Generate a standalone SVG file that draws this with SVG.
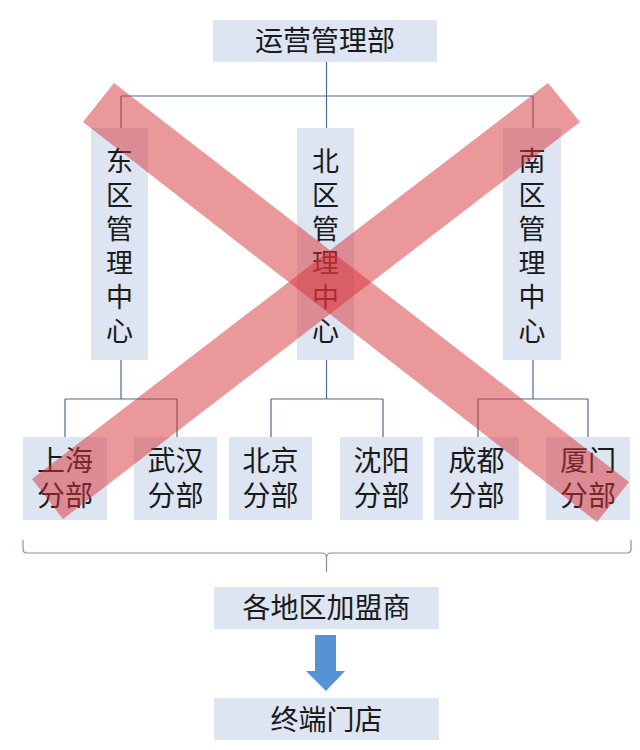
<svg xmlns="http://www.w3.org/2000/svg" width="640" height="750" viewBox="0 0 640 750">
<style>
.box{fill:#dce5f1}
.t{font-family:"Noto Sans CJK SC","Noto Sans",sans-serif;font-size:28px;fill:#1a1a1a;text-anchor:middle}
.v{font-size:27px;writing-mode:vertical-rl;text-anchor:start;letter-spacing:7px}
.ln{fill:none;stroke:#4d6b8f;stroke-width:1.2}
.br{fill:none;stroke:#7f93aa;stroke-width:1.2}
.band{fill:#d73237;opacity:0.5}
</style>
<rect width="640" height="750" fill="#ffffff"/>
<g id="connectors">
<path class="ln" d="M326.5,62 V128 M121,96 H533 M121,96 V128 M533,96 V128"/>
<path class="ln" d="M121,360 V399 M65,399 H177 M65,399 V437 M177,399 V437"/>
<path class="ln" d="M326.5,360 V399 M271,399 H383 M271,399 V437 M383,399 V437"/>
<path class="ln" d="M533,360 V399 M478,399 H588 M478,399 V437 M588,399 V437"/>
<path class="br" d="M23,540 V549 Q23,553 27,553 H322 Q326.5,553 326.5,558 V572 M326.5,558 Q326.5,553 331,553 H627 Q631,553 631,549 V540"/>
<path d="M315,635 H336 V671 H345 L326,691 L306,671 H315 Z" fill="#5593d4"/>
</g>
<g id="node-top"><rect class="box" x="213" y="20" width="224" height="42"/><text class="t" x="325" y="50.5">运营管理部</text></g>
<g id="node-east"><rect class="box" x="91" y="128" width="57" height="232"/><text class="t v" x="119.5" y="147.5">东区管理中心</text></g>
<g id="node-north"><rect class="box" x="297" y="128" width="57" height="232"/><text class="t v" x="325.5" y="147.5">北区管理中心</text></g>
<g id="node-south"><rect class="box" x="503" y="128" width="58" height="232"/><text class="t v" x="532" y="147.5">南区管理中心</text></g>
<g id="node-shanghai"><rect class="box" x="23" y="437" width="84" height="83"/><text class="t"><tspan x="65" y="470.5">上海</tspan><tspan x="65" y="505.5">分部</tspan></text></g>
<g id="node-wuhan"><rect class="box" x="134" y="437" width="83" height="83"/><text class="t"><tspan x="175.5" y="470.5">武汉</tspan><tspan x="175.5" y="505.5">分部</tspan></text></g>
<g id="node-beijing"><rect class="box" x="229" y="437" width="83" height="83"/><text class="t"><tspan x="270.5" y="470.5">北京</tspan><tspan x="270.5" y="505.5">分部</tspan></text></g>
<g id="node-shenyang"><rect class="box" x="340" y="437" width="83" height="83"/><text class="t"><tspan x="381.5" y="470.5">沈阳</tspan><tspan x="381.5" y="505.5">分部</tspan></text></g>
<g id="node-chengdu"><rect class="box" x="434" y="437" width="85" height="83"/><text class="t"><tspan x="476.5" y="470.5">成都</tspan><tspan x="476.5" y="505.5">分部</tspan></text></g>
<g id="node-xiamen"><rect class="box" x="546" y="437" width="84" height="83"/><text class="t"><tspan x="588" y="470.5">厦门</tspan><tspan x="588" y="505.5">分部</tspan></text></g>
<g id="node-franchise"><rect class="box" x="214" y="587" width="225" height="42"/><text class="t" x="326.5" y="618">各地区加盟商</text></g>
<g id="node-store"><rect class="box" x="214" y="698" width="225" height="42"/><text class="t" x="326.5" y="730">终端门店</text></g>
<g id="cross">
<polygon class="band" points="83,122 114,83 629,482 597,522"/>
<polygon class="band" points="548,83 580,122 63,519 32,479"/>
</g>
</svg>
